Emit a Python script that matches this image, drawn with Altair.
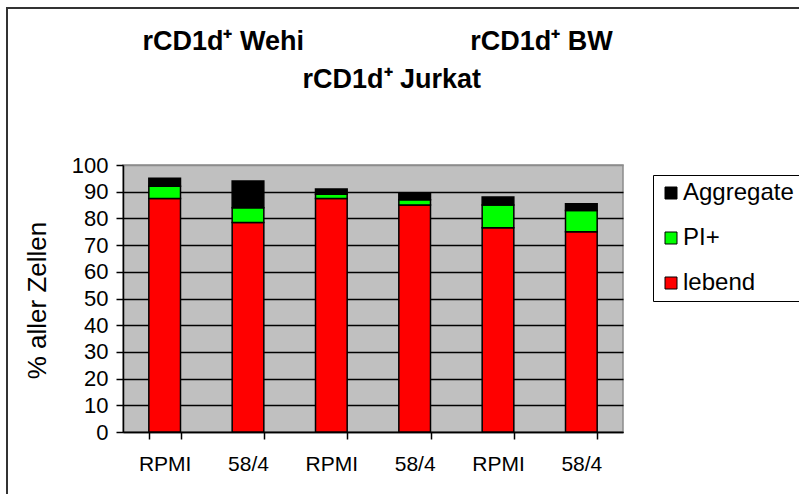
import altair as alt
import pandas as pd

# Cell lines and media, one bar per combination
cell_lines = ["Wehi", "Wehi", "Jurkat", "Jurkat", "BW", "BW"]
media = ["RPMI", "58/4", "RPMI", "58/4", "RPMI", "58/4"]

# Percent of all cells per state
lebend = [87.5, 78.5, 87.5, 85.0, 76.5, 75.0]
pi_plus = [4.5, 5.5, 1.5, 2.0, 8.5, 8.0]
aggregate = [3.0, 10.0, 2.0, 2.5, 3.0, 2.5]

states = ["Aggregate", "PI+", "lebend"]
state_colors = ["#000000", "#00FF00", "#FF0000"]

# Headings above each pair of bars
heading_lines = ["Wehi", "Jurkat", "BW"]

FONT = "Liberation Sans"

keys = [f"{c} {m}" for c, m in zip(cell_lines, media)]
rows = []
for k, le, pi, ag in zip(keys, lebend, pi_plus, aggregate):
    rows.append({"key": k, "state": "lebend", "value": le, "ord": 0})
    rows.append({"key": k, "state": "PI+", "value": pi, "ord": 1})
    rows.append({"key": k, "state": "Aggregate", "value": ag, "ord": 2})
df = pd.DataFrame(rows)

x_enc = alt.X(
    "key:N",
    sort=keys,
    scale=alt.Scale(domain=keys, paddingInner=0.62, paddingOuter=0.31),
    axis=alt.Axis(
        title=None,
        labelExpr="split(datum.label, ' ')[1]",
        tickBand="extent",
        tickSize=7,
        tickColor="black",
        tickWidth=1.5,
        domainColor="black",
        domainWidth=1.5,
        labelFontSize=21,
        labelFont=FONT,
        labelColor="black",
        labelPadding=14,
        labelAngle=0,
        grid=False,
    ),
)

bars = alt.Chart(df).mark_bar(stroke="black", strokeWidth=1.5).encode(
    x=x_enc,
    y=alt.Y(
        "value:Q",
        stack="zero",
        scale=alt.Scale(domain=[0, 100], nice=False),
        axis=alt.Axis(
            title="% aller Zellen",
            values=list(range(0, 101, 10)),
            tickSize=7,
            tickColor="black",
            tickWidth=1.5,
            domainColor="black",
            domainWidth=1.5,
            labelFontSize=22,
            labelFont=FONT,
            labelColor="black",
            labelPadding=8,
            grid=True,
            gridColor=alt.condition("datum.value === 100", alt.value("#8c8c8c"), alt.value("black")),
            gridWidth=1.5,
            titleFont=FONT,
            titleFontSize=26,
            titleFontWeight="normal",
            titleColor="black",
            titleX=-86,
            titleY=135,
            titleAlign="center",
            titleBaseline="middle",
            titleAngle=-90,
        ),
    ),
    color=alt.Color(
        "state:N",
        scale=alt.Scale(domain=states, range=state_colors),
        legend=alt.Legend(
            title=None,
            orient="none",
            legendX=530,
            legendY=10,
            padding=6,
            strokeColor="black",
            fillColor="white",
            symbolType="square",
            symbolSize=144,
            symbolStrokeColor="black",
            symbolStrokeWidth=1,
            symbolOpacity=1,
            labelFontSize=24,
            labelFont=FONT,
            labelColor="black",
            labelOffset=0,
            rowPadding=21,
        ),
    ),
    order=alt.Order("ord:Q", sort="ascending"),
)

# Headings sit near the gap between each pair of bars
head_df = pd.DataFrame({
    "key": [keys[1], keys[3], keys[5]],
    "label": [f"rCD1d\u207a {h}" for h in heading_lines],
    "line": heading_lines,
})

def heading(name, ypix, dx):
    return alt.Chart(head_df).transform_filter(
        alt.datum.line == name
    ).mark_text(
        font=FONT, fontSize=27, fontWeight="bold", align="center",
        baseline="alphabetic", color="black", dx=dx,
    ).encode(
        x=alt.X("key:N", sort=keys, bandPosition=0),
        y=alt.value(ypix),
        text="label:N",
    )

# Outer frame around the figure
frame = alt.Chart(pd.DataFrame({"f": [0]})).mark_rect(
    fill=None, stroke="#333333", strokeWidth=2
).encode(
    x=alt.value(-116), y=alt.value(-157), x2=alt.value(800), y2=alt.value(500)
)

chart = alt.layer(
    bars,
    heading("Wehi", -115, -9),
    heading("BW", -115, -24),
    heading("Jurkat", -77, -7),
    frame,
).properties(
    width=500,
    height=267,
    padding={"left": 123, "top": 165, "right": 176, "bottom": 62},
    autosize=alt.AutoSizeParams(type="none"),
    background="white",
).configure_view(
    fill="#C0C0C0", stroke="#8c8c8c", strokeWidth=1.5
)

chart.save("out.html", embed_options={"renderer": "svg", "actions": False})
